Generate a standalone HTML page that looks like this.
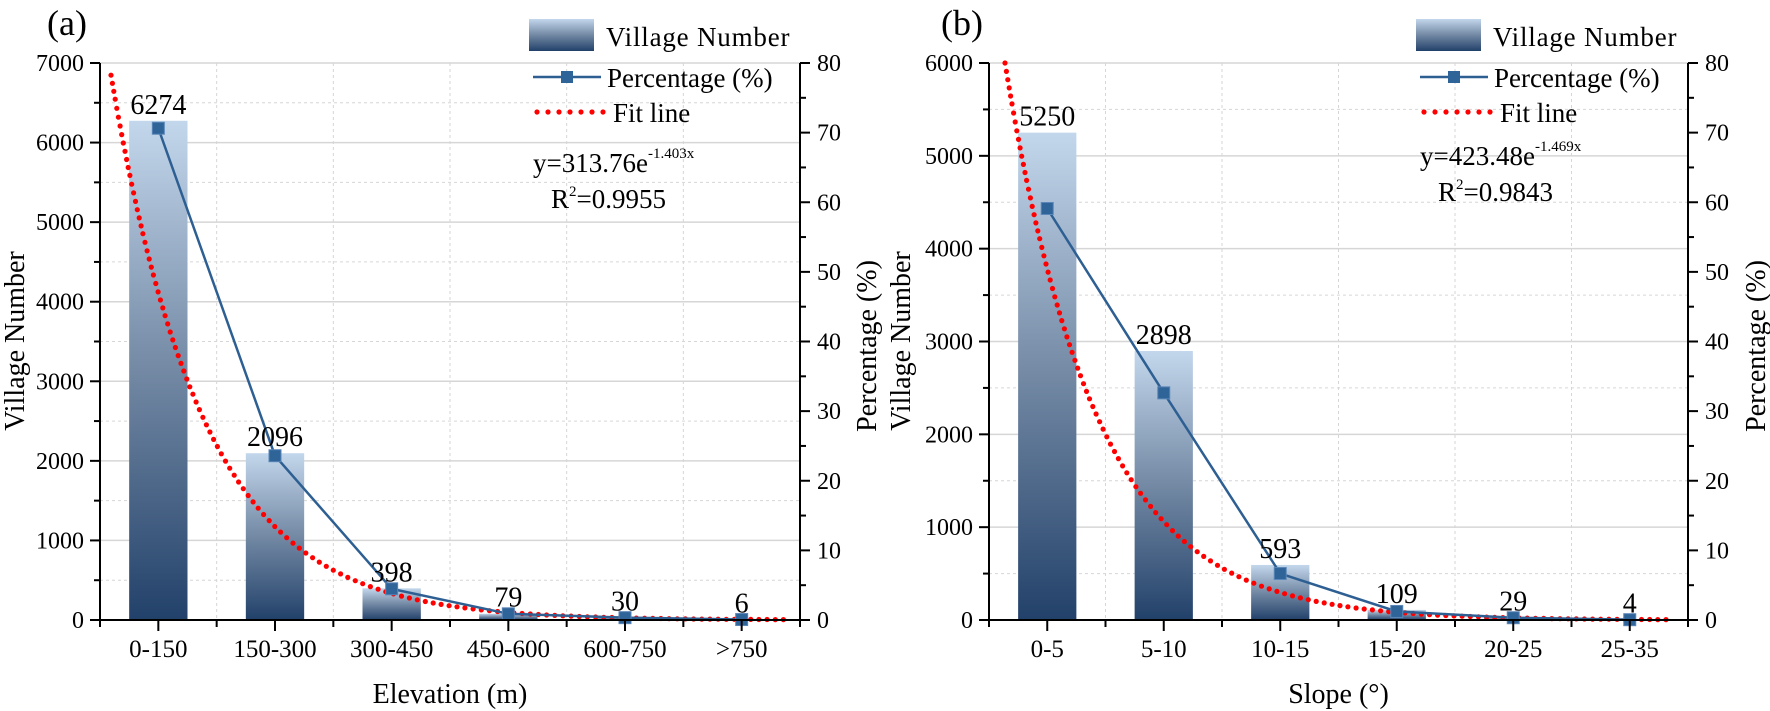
<!DOCTYPE html>
<html><head><meta charset="utf-8"><style>
html,body{margin:0;padding:0;background:#fff;}
svg{display:block;font-family:"Liberation Serif",serif;}
</style></head><body>
<svg id="s" width="1770" height="711" viewBox="0 0 1770 711" xmlns="http://www.w3.org/2000/svg">
<defs>
<linearGradient id="g" x1="0" y1="0" x2="0" y2="1">
<stop offset="0" stop-color="#c3d7ec"/><stop offset="0.5" stop-color="#7389a4"/><stop offset="1" stop-color="#22416a"/>
</linearGradient>
</defs>
</svg>
<script>
const S=document.getElementById('s');let h='';
function chart(c){
 const {x0,x1,vmax,lab,vals,cats,A,k,xs,tag,tagx,title,ytx,rtx,leg,eq,eqsup,eqx,eqy,r2,r2x}=c;
 const y0=620,yt=63,cw=(x1-x0)/6,sy=(y0-yt)/vmax,sp=(y0-yt)/80;
 const Y=v=>y0-v*sy;
 for(let v=500;v<=vmax;v+=500){const y=Y(v);
  if(v%1000==0)h+=`<line x1="${x0}" x2="${x1}" y1="${y}" y2="${y}" stroke="#d6d6d6" stroke-width="1.5"/>`;
  else h+=`<line x1="${x0}" x2="${x1}" y1="${y}" y2="${y}" stroke="#d6d6d6" stroke-dasharray="3,3"/>`;}
 for(let i=1;i<6;i++){const x=x0+i*cw;h+=`<line x1="${x}" x2="${x}" y1="${yt}" y2="${y0}" stroke="#d6d6d6" stroke-dasharray="3,3"/>`;}
 const tot=vals.reduce((a,b)=>a+b,0);
 vals.forEach((v,i)=>{const cx=x0+(i+.5)*cw,w=cw/2;
  h+=`<rect x="${cx-w/2}" y="${Y(v)}" width="${w}" height="${v*sy}" fill="url(#g)"/>`;});
 let pts=[];for(let xc=xs;xc<=5.86;xc+=0.002){pts.push([x0+xc*cw,Y(A*Math.exp(-k*(xc-xs)))]);}
 let acc=8,last=null;
 pts.forEach(p=>{if(last){acc+=Math.hypot(p[0]-last[0],p[1]-last[1]);}last=p;if(acc>=8){acc=0;h+=`<circle cx="${p[0].toFixed(1)}" cy="${p[1].toFixed(1)}" r="2.6" fill="#f00"/>`;}});
 let pp=vals.map((v,i)=>[x0+(i+.5)*cw,y0-(v/tot*100)*sp]);
 h+=`<polyline points="${pp.map(p=>p.join(',')).join(' ')}" fill="none" stroke="#2e5f93" stroke-width="2.5"/>`;
 pp.forEach(p=>h+=`<rect x="${p[0]-6}" y="${p[1]-6}" width="12" height="12" fill="#2f6499" stroke="#5a86b8" stroke-width="1"/>`);
 vals.forEach((v,i)=>{const cx=x0+(i+.5)*cw;h+=`<text x="${cx}" y="${Y(v)-7}" font-size="28" text-anchor="middle">${v}</text>`;});
 h+=`<line x1="${x0}" x2="${x0}" y1="${yt}" y2="${y0+1}" stroke="#000" stroke-width="2"/>`;
 h+=`<line x1="${x1}" x2="${x1}" y1="${yt}" y2="${y0+1}" stroke="#000" stroke-width="2"/>`;
 h+=`<line x1="${x0-10}" x2="${x1}" y1="${y0}" y2="${y0}" stroke="#000" stroke-width="2"/>`;
 for(let v=0;v<=vmax;v+=500){const y=Y(v),m=v%1000==0;
  h+=`<line x1="${x0-(m?10:6)}" x2="${x0}" y1="${y}" y2="${y}" stroke="#000" stroke-width="2"/>`;
  if(m)h+=`<text x="${x0-16}" y="${y+8}" font-size="24" text-anchor="end">${v}</text>`;}
 for(let v=0;v<=80;v+=5){const y=y0-v*sp,m=v%10==0;
  h+=`<line x1="${x1}" x2="${x1+(m?10:6)}" y1="${y}" y2="${y}" stroke="#000" stroke-width="2"/>`;
  if(m)h+=`<text x="${x1+17}" y="${y+8}" font-size="24">${v}</text>`;}
 for(let i=0;i<=12;i++){const x=x0+i*cw/2,m=i%2==1;
  h+=`<line x1="${x}" x2="${x}" y1="${y0}" y2="${y0+(m?11:7)}" stroke="#000" stroke-width="2"/>`;}
 cats.forEach((t,i)=>h+=`<text x="${x0+(i+.5)*cw}" y="657" font-size="25" text-anchor="middle">${t}</text>`);
 h+=`<text x="${(x0+x1)/2}" y="703" font-size="28" text-anchor="middle">${title}</text>`;
 h+=`<text transform="translate(${ytx},341) rotate(-90)" font-size="28" text-anchor="middle">Village Number</text>`;
 h+=`<text transform="translate(${rtx},346) rotate(-90)" font-size="28" text-anchor="middle">Percentage (%)</text>`;
 h+=`<text x="${tagx}" y="35" font-size="36">${tag}</text>`;
 const L=leg;
 h+=`<rect x="${L}" y="19" width="65" height="32" fill="url(#g)"/>`;
 h+=`<text x="${L+77}" y="46" font-size="27" letter-spacing="0.8">Village Number</text>`;
 h+=`<line x1="${L+4}" x2="${L+72}" y1="77" y2="77" stroke="#2e5f93" stroke-width="2.5"/><rect x="${L+32}" y="71" width="12" height="12" fill="#2f6499"/>`;
 h+=`<text x="${L+78}" y="87" font-size="27">Percentage (%)</text>`;
 for(let i=0;i<7;i++)h+=`<circle cx="${L+8+i*11}" cy="112" r="2.6" fill="#f00"/>`;
 h+=`<text x="${L+84}" y="122" font-size="27">Fit line</text>`;
 h+=`<text x="${eqx}" y="${eqy}" font-size="27">${eq}<tspan font-size="15" dy="-14">${eqsup}</tspan></text>`;
 h+=`<text x="${r2x}" y="${eqy+36}" font-size="27">R<tspan font-size="15" dy="-12">2</tspan><tspan dy="12">=${r2}</tspan></text>`;
}
chart({x0:100,x1:800,vmax:7000,vals:[6274,2096,398,79,30,6],cats:['0-150','150-300','300-450','450-600','600-750','&gt;750'],A:6847,k:1.255,xs:0.094,tag:'(a)',tagx:47,title:'Elevation (m)',ytx:24,rtx:876,leg:529,eq:'y=313.76e',eqsup:'-1.403x',eqx:533,eqy:172,r2:'0.9955',r2x:551});
chart({x0:989,x1:1688,vmax:6000,vals:[5250,2898,593,109,29,4],cats:['0-5','5-10','10-15','15-20','20-25','25-35'],A:6000,k:1.272,xs:0.137,tag:'(b)',tagx:941,title:'Slope (°)',ytx:910,rtx:1765,leg:1416,eq:'y=423.48e',eqsup:'-1.469x',eqx:1420,eqy:165,r2:'0.9843',r2x:1438});
S.insertAdjacentHTML('beforeend',h);
</script>
</body></html>
